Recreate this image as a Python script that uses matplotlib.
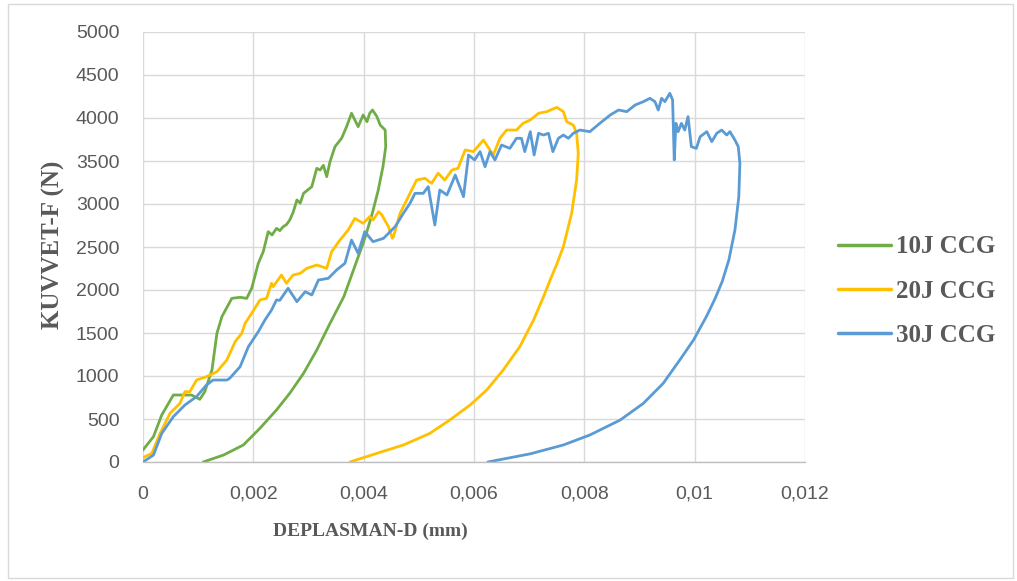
import matplotlib.pyplot as plt
from matplotlib.patches import Rectangle

# displacement in 1e-3 mm, force in N (loading branch then unloading branch)
d_10j = [0.00, 0.19, 0.34, 0.55, 0.73, 0.88, 1.03, 1.12, 1.25, 1.34, 1.43, 1.61,
         1.76, 1.88, 1.97, 2.09, 2.18, 2.27, 2.34, 2.42, 2.48, 2.54, 2.60, 2.66,
         2.72, 2.79, 2.85, 2.91, 2.98, 3.06, 3.15, 3.21, 3.27, 3.33, 3.39, 3.48,
         3.60, 3.69, 3.78, 3.90, 3.99, 4.06, 4.11, 4.16, 4.24, 4.30, 4.39,
         4.40, 4.35, 4.26, 4.16, 4.05, 3.99, 3.87, 3.75, 3.64, 3.39, 3.15, 2.91,
         2.66, 2.42, 2.12, 1.82, 1.46, 1.09]
f_10j = [140, 295, 547, 779, 779, 779, 729, 818, 1070, 1496, 1690, 1903,
         1915, 1903, 2019, 2310, 2446, 2678, 2640, 2717, 2690, 2736, 2760, 2814,
         2900, 3047, 3010, 3124, 3160, 3202, 3415, 3395, 3450, 3318, 3492, 3667,
         3764, 3899, 4055, 3899, 4035, 3957, 4055, 4093, 4016, 3918, 3860,
         3667, 3434, 3150, 2900, 2660, 2543, 2330, 2116, 1922, 1612, 1302, 1031,
         799, 605, 392, 198, 81, 0]

d_20j = [0.00, 0.16, 0.31, 0.49, 0.67, 0.76, 0.85, 0.97, 1.15, 1.34, 1.52, 1.67,
         1.79, 1.85, 1.97, 2.12, 2.24, 2.33, 2.36, 2.51, 2.60, 2.72, 2.85, 2.97,
         3.15, 3.33, 3.42, 3.57, 3.72, 3.84, 3.99, 4.11, 4.17, 4.27, 4.33, 4.45,
         4.52, 4.54, 4.66, 4.81, 4.96, 5.11, 5.23, 5.35, 5.47, 5.60, 5.71, 5.84,
         5.99, 6.17, 6.35, 6.47, 6.59, 6.77, 6.89, 7.02, 7.17, 7.32, 7.50, 7.62,
         7.68, 7.80, 7.86,
         7.89, 7.86, 7.77, 7.62, 7.50, 7.38, 7.26, 7.08, 6.83, 6.53, 6.23, 5.93,
         5.56, 5.20, 4.72, 4.24, 3.75]
f_20j = [50, 101, 333, 566, 682, 818, 818, 953, 992, 1050, 1186, 1399,
         1496, 1612, 1729, 1884, 1903, 2078, 2039, 2174, 2078, 2174, 2194, 2252,
         2291, 2252, 2446, 2581, 2698, 2833, 2775, 2853, 2814, 2911, 2872, 2736,
         2601, 2620, 2892, 3085, 3279, 3299, 3240, 3357, 3279, 3395, 3415, 3628,
         3609, 3744, 3570, 3764, 3860, 3860, 3938, 3977, 4055, 4074, 4124, 4074,
         3957, 3918, 3822,
         3589, 3279, 2892, 2504, 2300, 2116, 1922, 1651, 1341, 1070, 837, 663,
         488, 333, 198, 101, 0]

d_30j = [0.00, 0.19, 0.34, 0.55, 0.76, 0.97, 1.15, 1.27, 1.52, 1.57, 1.76, 1.91,
         2.09, 2.21, 2.33, 2.42, 2.48, 2.63, 2.79, 2.94, 3.06, 3.18, 3.36, 3.51,
         3.66, 3.78, 3.90, 4.02, 4.17, 4.36, 4.57, 4.72, 4.84, 4.93, 5.08, 5.17,
         5.29, 5.38, 5.51, 5.66, 5.81, 5.90, 6.01, 6.11, 6.20, 6.29, 6.38, 6.50,
         6.65, 6.77, 6.86, 6.92, 7.02, 7.09, 7.17, 7.26, 7.35, 7.43, 7.53, 7.62,
         7.71, 7.80, 7.92, 8.10, 8.28, 8.47, 8.62, 8.77, 8.92, 9.07, 9.19, 9.28,
         9.34, 9.40, 9.46, 9.55, 9.60, 9.63, 9.66, 9.70, 9.76, 9.82, 9.88, 9.94,
         10.03, 10.10, 10.22, 10.31, 10.40, 10.49, 10.58, 10.64, 10.73, 10.79,
         10.82, 10.80, 10.73, 10.62, 10.50, 10.37, 10.22, 9.98, 9.73, 9.43, 9.07,
         8.65, 8.10, 7.62, 7.02, 6.25]
f_30j = [0, 81, 333, 527, 663, 760, 895, 953, 953, 972, 1108, 1341,
         1515, 1651, 1767, 1884, 1880, 2020, 1864, 1980, 1942, 2116, 2136, 2233,
         2310, 2581, 2426, 2678, 2562, 2601, 2736, 2892, 3008, 3124, 3124, 3202,
         2756, 3163, 3105, 3337, 3085, 3570, 3512, 3609, 3434, 3609, 3512, 3686,
         3647, 3764, 3764, 3609, 3841, 3570, 3822, 3802, 3822, 3609, 3764, 3802,
         3764, 3822, 3860, 3841, 3938, 4035, 4093, 4074, 4151, 4190, 4229, 4190,
         4093, 4229, 4190, 4287, 4210, 3512, 3938, 3841, 3938, 3860, 4016, 3667,
         3647, 3783, 3841, 3725, 3822, 3860, 3802, 3841, 3744, 3667,
         3473, 3085, 2698, 2350, 2100, 1900, 1700, 1419, 1186, 915, 682,
         488, 314, 198, 95, 0]

series_labels = ["10J CCG", "20J CCG", "30J CCG"]
series_colors = ["#70AD47", "#FFC000", "#5B9BD5"]

x_ticks = [0, 0.002, 0.004, 0.006, 0.008, 0.010, 0.012]
x_tick_labels = ["0", "0,002", "0,004", "0,006", "0,008", "0,01", "0,012"]
y_ticks = list(range(0, 5001, 500))

W, H = 1017, 581
fig = plt.figure(figsize=(W / 100, H / 100), dpi=100)
ax = fig.add_axes([143 / W, 1 - 462 / H, (805 - 143) / W, (462 - 32) / H])

curves = [(d_10j, f_10j), (d_20j, f_20j), (d_30j, f_30j)]
for (d, f), lab, col in zip(curves, series_labels, series_colors):
    ax.plot([v * 1e-3 for v in d], f, color=col, lw=2.0, label=lab,
            solid_joinstyle="round", solid_capstyle="round")

ax.set_xlim(0, 0.012)
ax.set_ylim(0, 5000)
ax.set_xticks(x_ticks)
ax.set_xticklabels(x_tick_labels)
ax.set_yticks(y_ticks)
ax.tick_params(length=0, labelsize=14, labelcolor="#595959")
ax.tick_params(axis="x", pad=17)
ax.tick_params(axis="y", pad=17)
for lbl in ax.get_xticklabels() + ax.get_yticklabels():
    lbl.set_fontfamily("Liberation Sans")

ax.grid(True, color="#D9D9D9", lw=1.0)
ax.set_axisbelow(True)
for side in ["top", "right", "left"]:
    ax.spines[side].set_visible(False)
ax.spines["bottom"].set_color("#BFBFBF")
ax.spines["bottom"].set_linewidth(1.0)

label_font = dict(family="Liberation Serif", weight="bold", color="#595959")
fig.text(370 / W, 1 - 531 / H, "DEPLASMAN-D (mm)", ha="center", va="center",
         fontsize=14, **label_font)
fig.text(53 / W, 1 - 245 / H, "KUVVET-F (N)", ha="center", va="center",
         rotation=90, fontsize=18, **label_font)

leg = fig.legend(loc="center left", bbox_to_anchor=(838 / W, 1 - 291 / H),
                 frameon=False, borderpad=0, borderaxespad=0,
                 handlelength=2.1, handletextpad=0.2, labelspacing=0.85,
                 prop=dict(family="Liberation Serif", weight="bold", size=18))
for txt in leg.get_texts():
    txt.set_color("#595959")
for line in leg.get_lines():
    line.set_linewidth(2.5)

# light frame around the whole chart
fig.patches.append(Rectangle((8 / W, 1 - 578 / H), (1013 - 8) / W, (578 - 4) / H,
                             transform=fig.transFigure, fill=False,
                             edgecolor="#D9D9D9", lw=1.0))

fig.savefig("out.png", dpi=100)
plt.close(fig)
